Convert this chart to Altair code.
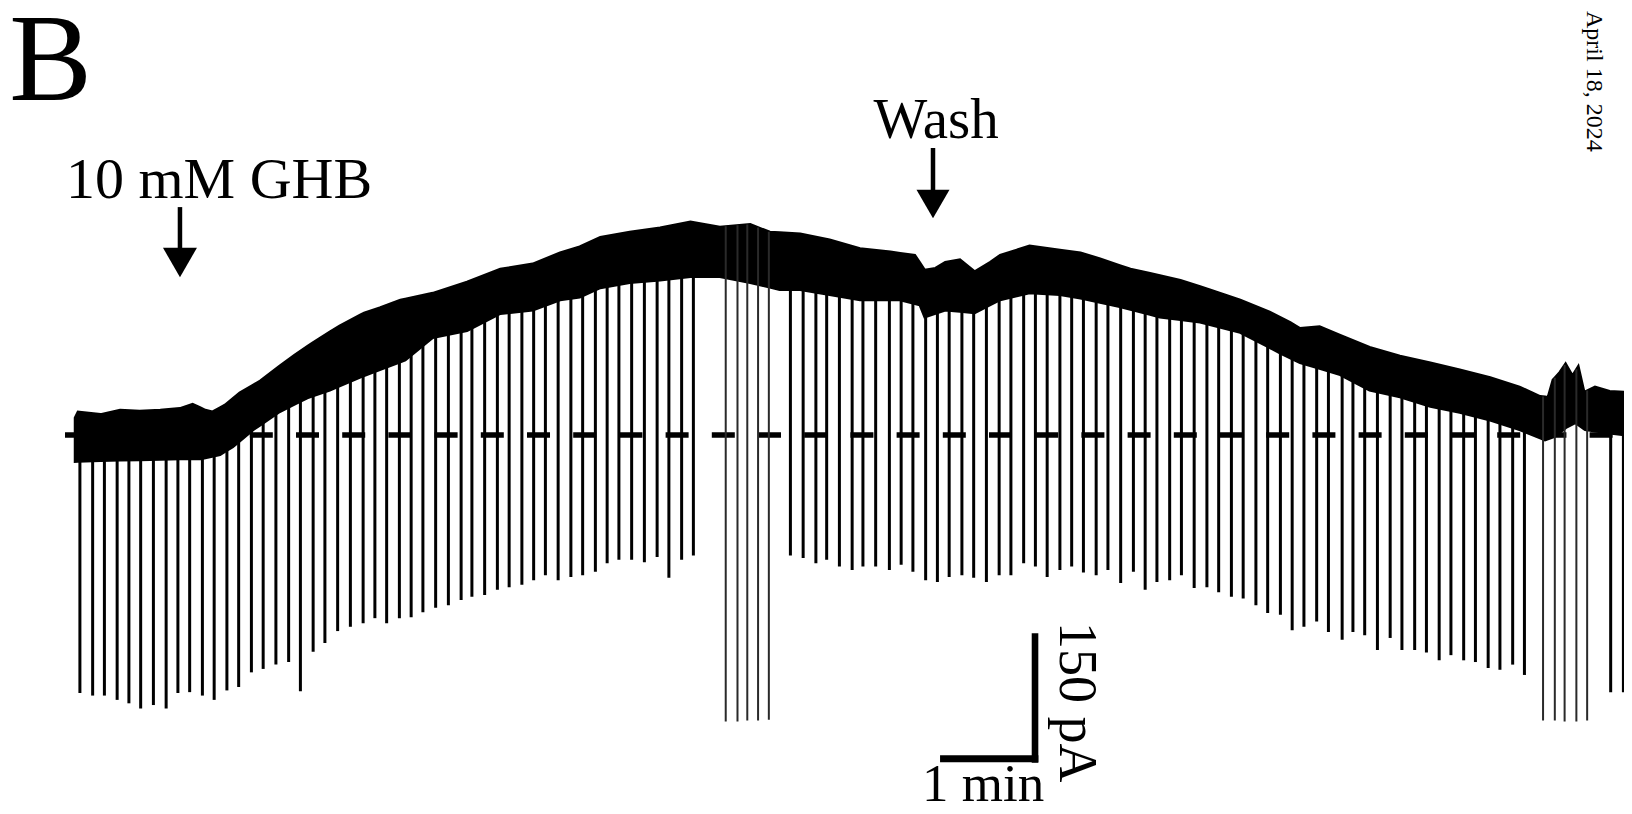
import altair as alt
import numpy as np
import pandas as pd

# ---- data (time in min, current in pA relative to holding level) ----
SPIKE_T = [0.05, 0.18, 0.30, 0.43, 0.55, 0.67, 0.80, 0.93, 1.05, 1.17,
           1.30, 1.42, 1.55, 1.67, 1.80, 1.92, 2.05, 2.18, 2.30, 2.43,
           2.55, 2.68, 2.81, 2.94, 3.06, 3.18, 3.31, 3.43, 3.55, 3.68,
           3.81, 3.94, 4.05, 4.18, 4.31, 4.43, 4.56, 4.68, 4.80, 4.93,
           5.06, 5.18, 5.31, 5.43, 5.55, 5.68, 5.81, 5.94, 6.06, 6.19, 6.31,
           7.30, 7.43, 7.56, 7.67, 7.80, 7.93, 8.04, 8.17, 8.31, 8.43,
           8.55, 8.68, 8.80, 8.92, 9.05, 9.17, 9.30, 9.43, 9.55, 9.68,
           9.80, 9.92, 10.05, 10.17,
           10.29, 10.42, 10.54, 10.67, 10.80, 10.92, 11.04, 11.17, 11.29, 11.42,
           11.55, 11.67, 11.80, 11.92, 12.05, 12.17, 12.30, 12.42, 12.54, 12.67, 12.79,
           12.93, 13.04, 13.16, 13.29, 13.42, 13.54, 13.67, 13.79, 13.92, 14.04,
           14.17, 14.29, 14.42, 14.54, 14.67, 14.79,
           15.67, 15.80]
SPIKE_I = [-300, -303, -303, -308, -312, -318, -314, -318, -300, -299,
           -303, -308, -297, -293, -276, -272, -267, -264, -298, -252,
           -242, -228, -223, -219, -213, -219, -213, -212, -206, -201,
           -198, -192, -188, -186, -180, -177, -174, -169, -163, -169,
           -165, -163, -159, -149, -145, -145, -148, -142, -166, -145, -140,
           -140, -143, -149, -145, -153, -157, -153, -153, -157, -151,
           -159, -169, -171, -165, -163, -166, -171, -163, -163, -149,
           -153, -165, -157, -153,
           -160, -163, -157, -172, -159, -180, -171, -169, -163, -178,
           -177, -183, -188, -190, -198, -207, -209, -227, -223, -217, -229,
           -238, -229, -233, -250, -236, -250, -250, -253, -262, -256,
           -262, -264, -271, -273, -267, -279,
           -299, -299]

BURST_T = [6.64, 6.76, 6.86, 6.97, 7.08, 14.98, 15.10, 15.20, 15.32, 15.43]
BURST_I = [-333, -333, -332, -332, -331, -332, -332, -333, -333, -332]

TOP_T = [0.0, 0.03, 0.26, 0.46, 0.66, 0.87, 1.07, 1.20, 1.33, 1.40,
         1.53, 1.68, 1.89, 2.06, 2.24, 2.42, 2.70, 2.95, 3.11, 3.32,
         3.65, 4.00, 4.34, 4.67, 4.95, 5.15, 5.36, 5.66, 5.97, 6.28,
         6.58, 6.89, 7.09, 7.40, 7.70, 8.01, 8.32, 8.57, 8.67, 8.78,
         8.88, 9.03, 9.18, 9.34, 9.44, 9.74, 10.05, 10.26, 10.46, 10.77,
         10.97, 11.28, 11.58, 11.89, 12.19, 12.40, 12.50, 12.70, 12.91, 13.21,
         13.52, 13.83, 14.13, 14.44, 14.74, 14.95, 15.03, 15.08, 15.15, 15.21,
         15.28, 15.34, 15.40, 15.51, 15.66, 15.81]
TOP_I = [20, 27, 24, 29, 28, 29, 31, 36, 29, 27,
         35, 49, 63, 78, 93, 107, 127, 142, 148, 157,
         165, 178, 193, 199, 212, 219, 230, 236, 241, 248,
         242, 245, 236, 234, 227, 217, 213, 209, 192, 194,
         201, 204, 190, 201, 209, 220, 215, 212, 205, 193,
         188, 180, 169, 157, 143, 131, 124, 126, 116, 102,
         92, 84, 76, 67, 56, 45, 44, 64, 73, 83,
         69, 80, 50, 56, 51, 50]

BOT_T = [0.0, 0.26, 0.66, 1.07, 1.28, 1.48, 1.61, 1.82, 2.09, 2.37,
         2.60, 2.91, 3.37, 3.65, 4.00, 4.34, 4.67, 4.95, 5.15, 5.36,
         5.66, 5.97, 6.28, 6.58, 6.89, 7.19, 7.40, 7.70, 8.01, 8.42,
         8.62, 8.67, 8.88, 9.18, 9.44, 9.74, 10.05, 10.26, 10.66, 11.07,
         11.48, 11.89, 12.30, 12.50, 12.91, 13.21, 13.52, 13.83, 14.13, 14.44,
         14.74, 15.00, 15.10, 15.22, 15.31, 15.41, 15.66, 15.81]
BOT_I = [-31, -30, -29, -28, -28, -23, -14, 6, 27, 43,
         52, 67, 87, 113, 121, 141, 145, 157, 160, 171,
         177, 180, 184, 184, 177, 169, 169, 163, 157, 157,
         151, 137, 145, 142, 157, 165, 163, 159, 149, 137,
         131, 119, 95, 84, 70, 52, 44, 33, 26, 17,
         6, -6, -2, 9, 14, 6, 2, 0]

# ---- scales ----
xs = alt.Scale(domain=[-0.6837, 15.806], nice=False, zero=False)
ys = alt.Scale(domain=[-431.4, 496.5], nice=False, zero=False)
ONE = pd.DataFrame({"k": [0]})
FONT = "Liberation Serif"


def X(v):
    return alt.XDatum(v, scale=xs, axis=None)


def Y(v):
    return alt.YDatum(v, scale=ys, axis=None)


grid = np.array(sorted(set(TOP_T) | set(BOT_T)))
band = pd.DataFrame({"t": grid,
                     "hi": np.interp(grid, TOP_T, TOP_I),
                     "lo": np.interp(grid, BOT_T, BOT_I)})

spk = pd.DataFrame({"t": SPIKE_T, "peak": SPIKE_I})
spk["base"] = np.interp(spk["t"], BOT_T, BOT_I) + 10

bst = pd.DataFrame({"t": BURST_T, "peak": BURST_I})
bst["base"] = np.interp(bst["t"], TOP_T, TOP_I)

dashed = alt.Chart(ONE).mark_rule(color="black", strokeWidth=5.5, strokeDash=[23, 23.2],
                                  strokeCap="butt").encode(
    x=X(-0.102), x2=alt.X2Datum(15.81), y=Y(0))

band_layer = alt.Chart(band).mark_area(color="black", stroke="black", strokeWidth=2.5,
                                       strokeJoin="miter", interpolate="linear").encode(
    x=alt.X("t:Q", scale=xs, axis=None),
    y=alt.Y("hi:Q", scale=ys, axis=None),
    y2="lo:Q")

spikes = alt.Chart(spk).mark_rule(color="black", strokeWidth=3).encode(
    x=alt.X("t:Q", scale=xs, axis=None),
    y=alt.Y("peak:Q", scale=ys, axis=None),
    y2="base:Q")

bursts = alt.Chart(bst).mark_rule(color="#2a2a2a", strokeWidth=2).encode(
    x=alt.X("t:Q", scale=xs, axis=None),
    y=alt.Y("peak:Q", scale=ys, axis=None),
    y2="base:Q")


def arrow(t, y_top, y_bot, y_head, size):
    shaft = alt.Chart(ONE).mark_rule(color="black", strokeWidth=4.5).encode(
        x=X(t), y=Y(y_top), y2=alt.Y2Datum(y_bot))
    head = alt.Chart(ONE).mark_point(shape="triangle-down", filled=True, size=size,
                                     color="black", opacity=1, strokeWidth=0).encode(
        x=X(t), y=Y(y_head))
    return shaft + head


def label(txt, t, i, size, align="left", angle=0):
    kw = dict(text=txt, font=FONT, fontSize=size, align=align, baseline="alphabetic",
              color="black")
    if angle:
        kw["angle"] = angle
    return alt.Chart(ONE).mark_text(**kw).encode(x=X(t), y=Y(i))


scale_h = alt.Chart(ONE).mark_rule(color="black", strokeWidth=7, strokeCap="butt").encode(
    x=X(8.827), x2=alt.X2Datum(9.830), y=Y(-376.5))
scale_v = alt.Chart(ONE).mark_rule(color="black", strokeWidth=6.6, strokeCap="butt").encode(
    x=X(9.796), y=Y(-381), y2=alt.Y2Datum(-230.6))

chart = alt.layer(
    dashed, band_layer, spikes, bursts,
    arrow(1.071, 265, 212, 200.6, 1156),
    arrow(8.755, 333.7, 280, 268.6, 1089),
    scale_h, scale_v,
    label("B", -0.672, 389.5, 124),
    label("10 mM GHB", -0.092, 275.6, 58),
    label("Wash", 8.786, 345.3, 57, align="center"),
    label("150 pA", 10.051, -217.4, 54, angle=90),
    label("1 min", 8.643, -425.5, 53),
    label("April 18, 2024", 15.429, 493, 24, angle=90),
).properties(width=1616, height=798, padding=0, autosize="none").configure_view(stroke=None)

chart.save("out.html", embed_options={"renderer": "svg", "actions": False})
